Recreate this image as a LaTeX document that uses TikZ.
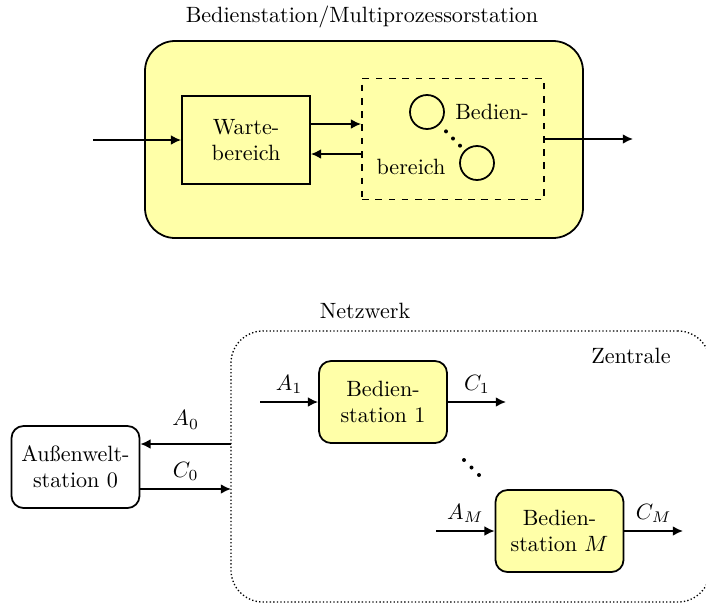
\documentclass[tikz,border=0pt]{standalone}
\usetikzlibrary{calc}
\usetikzlibrary{arrows.meta}
\def\U{0.452pt}
\definecolor{boxyellow}{RGB}{255,255,168}

\begin{document}
\begin{tikzpicture}[x=\U,y=-\U,
  box/.style={draw, thick, fill=boxyellow, align=center, inner sep=0pt},
  station/.style={box, rounded corners=12*\U, minimum width=128*\U, minimum height=82*\U},
  flow/.style={thick, -{Latex[length=4.6pt, width=4.4pt]}}]
  \useasboundingbox (0,0) rectangle (706,604);
  \clip (0,0) rectangle (706,604);
  % multiprocessor station
  \node (title) at (362,17) {Bedienstation/Multiprozessorstation};
  \node[box, rounded corners=30*\U, minimum width=438*\U, minimum height=197*\U] (system) at (364,139.5) {};
  \node[box, minimum width=128*\U, minimum height=88*\U] (warte) at (246,140) {Warte-\\bereich};
  \node[draw, thick, dashed, minimum width=182*\U, minimum height=121*\U] (serv) at (453,139) {};
  \node[draw, thick, circle, inner sep=0pt, minimum size=34*\U] (s1) at (427,112) {};
  \node[draw, thick, circle, inner sep=0pt, minimum size=34*\U] (s2) at (477,163) {};
  \foreach \t in {0.38,0.52,0.66}
    \fill ($(s1)!\t!(s2)$) circle (2);
  \node (bed) at (492,112) {Bedien-};
  \node (ber) at (411,167) {bereich};
  % queue flows
  \coordinate (in) at (93,140);
  \coordinate (out) at (633,139);
  \draw[flow] (in) -- (warte.west);
  \draw[flow] ($(warte.east)+(0,-16)$) -- ($(serv.west)+(0,-15)$);
  \draw[flow] ($(serv.west)+(0,15)$) -- ($(warte.east)+(0,14)$);
  \draw[flow] (serv.east) -- (out);
  % network
  \node (netz) at (365,311) {Netzwerk};
  \node[draw, semithick, densely dotted, rounded corners=32*\U, minimum width=479*\U, minimum height=271*\U] (net) at (470.5,466.5) {};
  \node (zentrale) at (631,356) {Zentrale};
  \node[station] (st1) at (383,402) {Bedien-\\station 1};
  \node[station] (stM) at (559.5,531) {Bedien-\\station $M$};
  \node[station, fill=white] (aussen) at (75.5,467) {Au\ss enwelt-\\station 0};
  \foreach \d in {0,1,2}
    \fill (464+7.5*\d,460+7.5*\d) circle (2);
  % station flows
  \coordinate (a1) at (260,402);
  \coordinate (c1) at (506,402);
  \coordinate (am) at (436,531);
  \coordinate (cm) at (683,531);
  \coordinate (a0) at (231,444);
  \coordinate (c0) at (231,489);
  \draw[flow] (a1) -- (st1) node[midway, above] {$A_1$};
  \draw[flow] (st1) -- (c1) node[midway, above] {$C_1$};
  \draw[flow] (am) -- (stM) node[midway, above] {$A_M$};
  \draw[flow] (stM) -- (cm) node[midway, above] {$C_M$};
  \draw[flow] (a0) -- (a0 -| aussen.east) node[midway, above=3pt] {$A_0$};
  \draw[flow] (c0 -| aussen.east) -- (c0) node[midway, above] {$C_0$};
\end{tikzpicture}
\end{document}
